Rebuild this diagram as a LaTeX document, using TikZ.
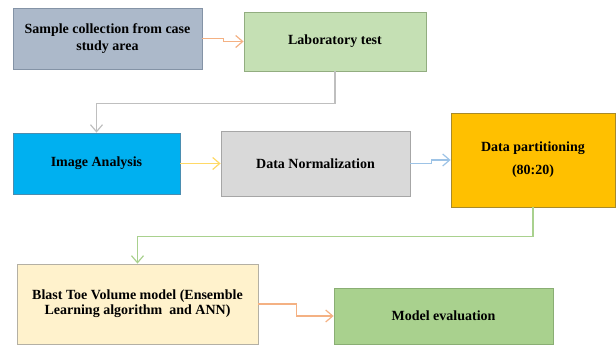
\documentclass[tikz,border=0pt]{standalone}
\usepackage{fontspec}
\setmainfont{Liberation Serif}
\usepackage{tikz}
\usetikzlibrary{arrows.meta, calc}
\definecolor{fslate}{HTML}{ACB9CA}
\definecolor{dslate}{HTML}{8493A6}
\definecolor{fsage}{HTML}{C5E0B4}
\definecolor{dsage}{HTML}{92AD80}
\definecolor{fcyan}{HTML}{00B0F0}
\definecolor{dcyan}{HTML}{4A8DB0}
\definecolor{fgrey}{HTML}{D9D9D9}
\definecolor{dgrey}{HTML}{A6A6A6}
\definecolor{fgold}{HTML}{FFC000}
\definecolor{dgold}{HTML}{A88A2A}
\definecolor{fcream}{HTML}{FFF2CC}
\definecolor{dcream}{HTML}{B4B0A4}
\definecolor{fleaf}{HTML}{A9D18E}
\definecolor{dleaf}{HTML}{8AAE74}
\definecolor{aorange}{HTML}{F4B183}
\definecolor{agrey}{HTML}{BFBFBF}
\definecolor{ayellow}{HTML}{FFD966}
\definecolor{ablue}{HTML}{9DC3E6}
\definecolor{agreen}{HTML}{A9D18E}
\newcommand{\boxfont}{\fontsize{14}{17}\selectfont\bfseries}
\tikzset{
  slatebox/.style={draw=dslate, fill=fslate, line width=0.8pt,
                   font=\boxfont, align=center, inner sep=0pt},
  sagebox/.style={draw=dsage, fill=fsage, line width=0.8pt,
                  font=\boxfont, align=center, inner sep=0pt},
  cyanbox/.style={draw=dcyan, fill=fcyan, line width=0.8pt,
                  font=\boxfont, align=center, inner sep=0pt},
  greybox/.style={draw=dgrey, fill=fgrey, line width=0.8pt,
                  font=\boxfont, align=center, inner sep=0pt},
  goldbox/.style={draw=dgold, fill=fgold, line width=0.8pt,
                  font=\boxfont, align=center, inner sep=0pt},
  creambox/.style={draw=dcream, fill=fcream, line width=0.8pt,
                   font=\boxfont, align=center, inner sep=0pt},
  leafbox/.style={draw=dleaf, fill=fleaf, line width=0.8pt,
                  font=\boxfont, align=center, inner sep=0pt},
  arr/.style={-{Straight Barb[length=7pt,width=12pt]}, line width=1.2pt},
}

\begin{document}
\begin{tikzpicture}[x=1pt, y=-1pt]
    \useasboundingbox (0,0) rectangle (616,345);
    \node[slatebox, minimum width=189, minimum height=61] (b1) at (107.5, 38.5) {Sample collection from case\\study area};
    \node[sagebox, minimum width=182, minimum height=59] (b2) at (335, 41.5) {Laboratory test};
    \node[cyanbox, minimum width=167, minimum height=61] (b3) at (96.5, 163.5) {Image Analysis};
    \node[greybox, minimum width=189, minimum height=65] (b4) at (315.5, 163.5) {Data Normalization};
    \node[goldbox, minimum width=164, minimum height=94] (b5) at (533, 160) {Data partitioning\\[6pt](80:20)};
    \node[creambox, minimum width=241, minimum height=80] (b6) at (137.5, 304) {Blast Toe Volume model (Ensemble\\[-2pt]Learning algorithm\ \ and ANN)};
    \node[leafbox, minimum width=219, minimum height=56] (b7) at (443.5, 316) {Model evaluation};

    \draw[arr, aorange] (b1.east) -- ++(21,0) |- (b2.west);
    \draw[arr, agrey] (b2.south) -- ++(0,32) -| (b3.north);
    \draw[arr, ayellow] (b3.east) -- (b4.west);
    \draw[arr, ablue] (b4.east) -- ++(21,0) |- (b5.west);
    \draw[arr, agreen] (b5.south) -- ++(0,29) -| (b6.north);
    \draw[arr, aorange] (b6.east) -- ++(38,0) |- (b7.west);
  \end{tikzpicture}
\end{document}
